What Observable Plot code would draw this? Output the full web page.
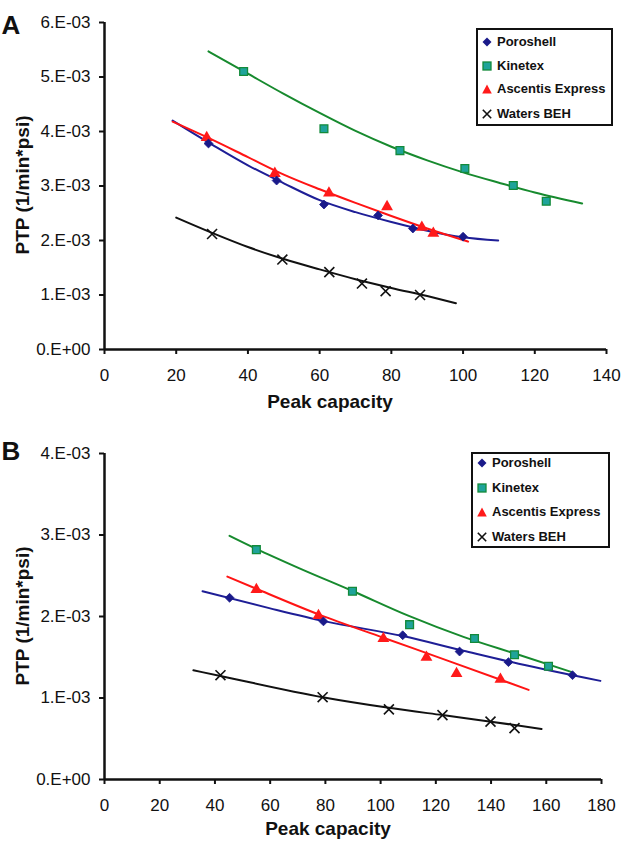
<!DOCTYPE html>
<html><head><meta charset="utf-8">
<script src="https://cdn.jsdelivr.net/npm/d3@7"></script>
<script src="https://cdn.jsdelivr.net/npm/@observablehq/plot@0.6"></script>
<style>
body{margin:0;background:#fff;}
#wrap{position:relative;width:622px;height:841px;overflow:hidden;font-family:"Liberation Sans",Arial,sans-serif;background:#fff;}
.panel{position:absolute;left:0;}
.legend{position:absolute;border:2px solid #111;background:#fff;box-sizing:border-box;}
.legend .row{position:absolute;left:0;width:100%;height:20px;}
.legend .row svg{position:absolute;top:4px;}
.legend .row span{position:absolute;top:0;line-height:20px;font-weight:bold;font-size:13px;color:#111;white-space:nowrap;}
</style></head>
<body><div id="wrap"></div>
<script>
// ---------- series names ----------
const seriesNames = ["Poroshell", "Kinetex", "Ascentis Express", "Waters BEH"];

// ---------- axis ticks ----------
const xTicksA = [0, 20, 40, 60, 80, 100, 120, 140];
const yTicksA = [0, 0.001, 0.002, 0.003, 0.004, 0.005, 0.006];
const xTicksB = [0, 20, 40, 60, 80, 100, 120, 140, 160, 180];
const yTicksB = [0, 0.001, 0.002, 0.003, 0.004];

// ---------- Panel A : measured points ----------
const aPoroshellX = [29, 48, 61.2, 76.3, 86, 100];
const aPoroshellY = [3.78e-3, 3.10e-3, 2.66e-3, 2.46e-3, 2.22e-3, 2.07e-3];
const aKinetexX = [38.8, 61.2, 82.4, 100.5, 114, 123.2];
const aKinetexY = [5.10e-3, 4.05e-3, 3.65e-3, 3.32e-3, 3.01e-3, 2.72e-3];
const aAscentisX = [28.5, 47.5, 62.6, 78.8, 88.5, 91.7];
const aAscentisY = [3.89e-3, 3.23e-3, 2.87e-3, 2.62e-3, 2.24e-3, 2.13e-3];
const aWatersX = [30, 49.6, 62.7, 71.8, 78.4, 88];
const aWatersY = [2.12e-3, 1.65e-3, 1.42e-3, 1.21e-3, 1.07e-3, 1.00e-3];

// ---------- Panel A : trend lines ----------
const aPoroshellFitX = [19, 30, 40, 50, 60, 70, 80, 90, 100, 109.8];
const aPoroshellFitY = [4.20e-3, 3.76e-3, 3.38e-3, 3.05e-3, 2.74e-3, 2.52e-3, 2.34e-3, 2.18e-3, 2.06e-3, 2.00e-3];
const aKinetexFitX = [29, 40, 50, 60, 70, 80, 90, 100, 110, 120, 133.2];
const aKinetexFitY = [5.47e-3, 5.06e-3, 4.69e-3, 4.34e-3, 4.01e-3, 3.72e-3, 3.47e-3, 3.25e-3, 3.06e-3, 2.88e-3, 2.68e-3];
const aAscentisFitX = [19, 30, 40, 50, 60, 70, 80, 90, 101.4];
const aAscentisFitY = [4.18e-3, 3.85e-3, 3.53e-3, 3.21e-3, 2.94e-3, 2.69e-3, 2.45e-3, 2.22e-3, 1.98e-3];
const aWatersFitX = [20, 30, 40, 50, 60, 70, 80, 90, 98];
const aWatersFitY = [2.42e-3, 2.14e-3, 1.88e-3, 1.66e-3, 1.47e-3, 1.29e-3, 1.13e-3, 0.98e-3, 0.85e-3];

// ---------- Panel B : measured points ----------
const bPoroshellX = [45.3, 79.3, 108, 128.6, 146.3, 169.5];
const bPoroshellY = [2.23e-3, 1.94e-3, 1.77e-3, 1.57e-3, 1.44e-3, 1.28e-3];
const bKinetexX = [55, 89.8, 110.5, 134, 148.5, 160.8];
const bKinetexY = [2.82e-3, 2.31e-3, 1.90e-3, 1.73e-3, 1.53e-3, 1.39e-3];
const bAscentisX = [55, 77.5, 101, 116.6, 127.5, 143.4];
const bAscentisY = [2.33e-3, 2.01e-3, 1.73e-3, 1.50e-3, 1.30e-3, 1.23e-3];
const bWatersX = [42, 79, 103, 122.4, 139.8, 148.5];
const bWatersY = [1.28e-3, 1.01e-3, 0.86e-3, 0.79e-3, 0.71e-3, 0.63e-3];

// ---------- Panel B : trend lines ----------
const bPoroshellFitX = [35.5, 60, 80, 108, 130, 150, 179.6];
const bPoroshellFitY = [2.31e-3, 2.10e-3, 1.94e-3, 1.76e-3, 1.58e-3, 1.42e-3, 1.21e-3];
const bKinetexFitX = [45.3, 55, 70, 90, 110, 130, 150, 169];
const bKinetexFitY = [2.99e-3, 2.83e-3, 2.60e-3, 2.31e-3, 2.01e-3, 1.75e-3, 1.53e-3, 1.32e-3];
const bAscentisFitX = [44.5, 55, 78, 101, 125, 153.6];
const bAscentisFitY = [2.49e-3, 2.34e-3, 2.02e-3, 1.74e-3, 1.45e-3, 1.10e-3];
const bWatersFitX = [32.2, 42, 79, 103, 122.4, 140, 158.3];
const bWatersFitY = [1.34e-3, 1.27e-3, 1.01e-3, 0.88e-3, 0.79e-3, 0.71e-3, 0.62e-3];

// ---------- styles ----------
const C = {
  poroLine: "#1e1e96", poroFill: "#1a1a8a",
  kinLine: "#178a2e", kinFill: "#1fa39a", kinStroke: "#138a3a",
  ascLine: "#ff1414", ascFill: "#ff1a1a",
  watLine: "#111111"
};
const FONT = "Liberation Sans, Arial, sans-serif";

const zip = (xs, ys) => xs.map((x, i) => ({x, y: ys[i]}));
const fmt = d => d === 0 ? "0.E+00" : `${Math.round(d * 1000)}.E-03`;

function panel(o) {
  const lw = 2;
  const svg = Plot.plot({
    width: 622, height: o.height,
    marginLeft: 104, marginRight: o.marginRight, marginTop: o.marginTop, marginBottom: o.marginBottom,
    style: {fontFamily: FONT, fontSize: "17px", color: "#111", background: "white", overflow: "visible"},
    x: {domain: o.xDomain},
    y: {domain: o.yDomain},
    marks: [
      Plot.axisX({ticks: o.xTicks, tickSize: 5, tickPadding: 14, strokeWidth: 2, label: null}),
      Plot.axisY({ticks: o.yTicks, tickSize: 5, tickPadding: 9, strokeWidth: 2, label: null, tickFormat: fmt}),
      Plot.ruleX([o.xDomain[0]], {strokeWidth: 2.5, stroke: "#111"}),
      Plot.ruleY([o.yDomain[0]], {strokeWidth: 2.5, stroke: "#111"}),
      Plot.line(o.watFit, {x: "x", y: "y", stroke: C.watLine, strokeWidth: lw, curve: "monotone-x"}),
      Plot.line(o.kinFit, {x: "x", y: "y", stroke: C.kinLine, strokeWidth: lw, curve: "monotone-x"}),
      Plot.line(o.poroFit, {x: "x", y: "y", stroke: C.poroLine, strokeWidth: lw, curve: "monotone-x"}),
      Plot.line(o.ascFit, {x: "x", y: "y", stroke: C.ascLine, strokeWidth: lw, curve: "monotone-x"}),
      Plot.dot(o.wat, {x: "x", y: "y", symbol: "times", r: 4.6, stroke: "#111", strokeWidth: 1.6}),
      Plot.dot(o.kin, {x: "x", y: "y", symbol: "square", r: 4.4, fill: C.kinFill, stroke: C.kinStroke, strokeWidth: 1.3}),
      Plot.dot(o.asc, {x: "x", y: "y", symbol: "triangle", r: 4.4, fill: C.ascFill, stroke: "none"}),
      Plot.dot(o.poro, {x: "x", y: "y", symbol: "diamond2", r: 4.0, fill: C.poroFill, stroke: C.poroFill, strokeWidth: 0.8})
    ]
  });
  const s = d3.select(svg);
  s.append("text").text(o.tag).attr("x", 11).attr("y", o.tagY)
    .attr("font-family", FONT).attr("font-weight", "bold").attr("font-size", 26).attr("fill", "#111");
  s.append("text").text("PTP (1/min*psi)")
    .attr("transform", `translate(22,${o.yLabelY}) rotate(-90)`)
    .attr("text-anchor", "middle").attr("dy", "0.35em")
    .attr("font-family", FONT).attr("font-weight", "bold").attr("font-size", 19).attr("fill", "#111");
  s.append("text").text("Peak capacity")
    .attr("x", o.xLabelX).attr("y", o.xLabelY).attr("text-anchor", "middle")
    .attr("font-family", FONT).attr("font-weight", "bold").attr("font-size", 19).attr("fill", "#111");
  return svg;
}

function markerSvg(kind) {
  const ns = "http://www.w3.org/2000/svg";
  const svg = document.createElementNS(ns, "svg");
  svg.setAttribute("width", 12); svg.setAttribute("height", 12);
  let inner = "";
  if (kind === 0) inner = `<path d="M6,1.5L10.5,6L6,10.5L1.5,6Z" fill="${C.poroFill}"/>`;
  if (kind === 1) inner = `<rect x="2" y="2" width="8" height="8" fill="${C.kinFill}" stroke="${C.kinStroke}" stroke-width="1.3"/>`;
  if (kind === 2) inner = `<path d="M6,1.5L10.8,10.5L1.2,10.5Z" fill="${C.ascFill}"/>`;
  if (kind === 3) inner = `<path d="M1.8,1.8L10.2,10.2M10.2,1.8L1.8,10.2" stroke="#111" stroke-width="1.6"/>`;
  svg.innerHTML = inner;
  return svg;
}

function legend(parent, o) {
  const box = document.createElement("div");
  box.className = "legend";
  Object.assign(box.style, {left: o.left + "px", top: o.top + "px", width: o.width + "px", height: o.height + "px"});
  seriesNames.forEach((name, i) => {
    const row = document.createElement("div");
    row.className = "row";
    row.style.top = o.rowTops[i] + "px";
    const m = markerSvg(i);
    m.style.left = (o.markerX - 6) + "px";
    row.appendChild(m);
    const t = document.createElement("span");
    t.textContent = name;
    t.style.left = o.textX + "px";
    row.appendChild(t);
    box.appendChild(row);
  });
  parent.appendChild(box);
}

const wrap = document.getElementById("wrap");

const svgA = panel({
  height: 420, marginTop: 22, marginBottom: 71, marginRight: 16,
  xDomain: [0, 140], yDomain: [0, 0.006], xTicks: xTicksA, yTicks: yTicksA,
  poro: zip(aPoroshellX, aPoroshellY), kin: zip(aKinetexX, aKinetexY),
  asc: zip(aAscentisX, aAscentisY), wat: zip(aWatersX, aWatersY),
  poroFit: zip(aPoroshellFitX, aPoroshellFitY), kinFit: zip(aKinetexFitX, aKinetexFitY),
  ascFit: zip(aAscentisFitX, aAscentisFitY), watFit: zip(aWatersFitX, aWatersFitY),
  tag: "A", tagY: 34, yLabelY: 185, xLabelX: 330, xLabelY: 408
});
svgA.classList.add("panel"); svgA.style.top = "0px";
wrap.appendChild(svgA);

const svgB = panel({
  height: 421, marginTop: 33, marginBottom: 62, marginRight: 21,
  xDomain: [0, 180], yDomain: [0, 0.004], xTicks: xTicksB, yTicks: yTicksB,
  poro: zip(bPoroshellX, bPoroshellY), kin: zip(bKinetexX, bKinetexY),
  asc: zip(bAscentisX, bAscentisY), wat: zip(bWatersX, bWatersY),
  poroFit: zip(bPoroshellFitX, bPoroshellFitY), kinFit: zip(bKinetexFitX, bKinetexFitY),
  ascFit: zip(bAscentisFitX, bAscentisFitY), watFit: zip(bWatersFitX, bWatersFitY),
  tag: "B", tagY: 40, yLabelY: 196, xLabelX: 328, xLabelY: 415
});
svgB.classList.add("panel"); svgB.style.top = "420px";
wrap.appendChild(svgB);

legend(wrap, {left: 476, top: 28, width: 137, height: 98, rowTops: [2, 26, 49, 74], markerX: 9, textX: 19});
legend(wrap, {left: 471, top: 452, width: 139, height: 96, rowTops: [-1, 24, 48, 73], markerX: 9, textX: 19});
</script>
</body></html>
